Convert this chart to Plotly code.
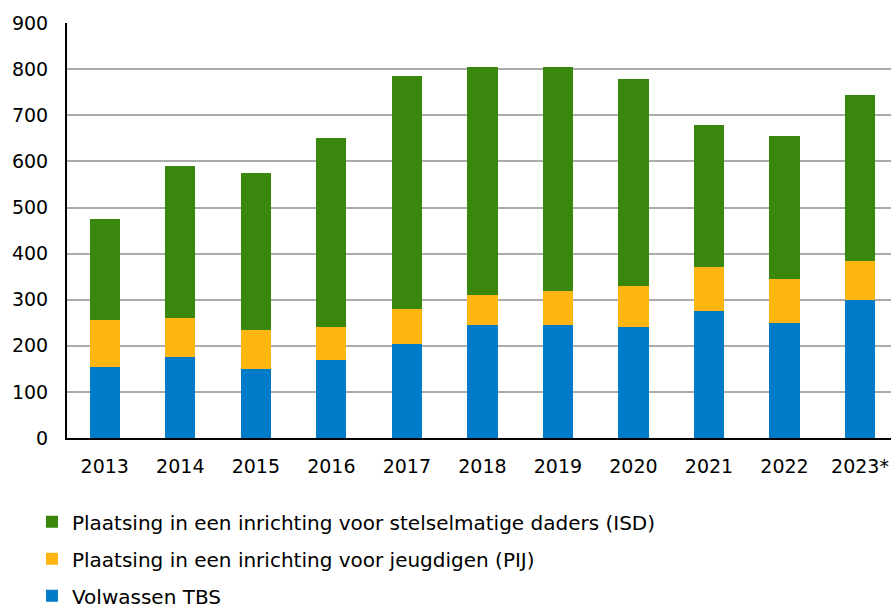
import plotly.graph_objects as go

years = ["2013", "2014", "2015", "2016", "2017", "2018", "2019", "2020", "2021", "2022", "2023*"]
tbs = [155, 175, 150, 170, 205, 245, 245, 240, 275, 250, 300]
pij = [100, 85, 85, 70, 75, 65, 75, 90, 95, 95, 85]
isd = [220, 330, 340, 410, 505, 495, 485, 450, 310, 310, 360]

names = ["Volwassen TBS",
         "Plaatsing in een inrichting voor jeugdigen (PIJ)",
         "Plaatsing in een inrichting voor stelselmatige daders (ISD)"]
colors = ["#007BC7", "#FFB612", "#39870C"]
ranks = [3, 2, 1]

fig = go.Figure()
for i, (vals, name, col) in enumerate(zip([tbs, pij, isd], names, colors)):
    fig.add_trace(go.Bar(x=years, y=vals, name=name, marker_color=col,
                         marker_line_width=0, legendgroup=str(i), legendrank=ranks[i]))

font = "DejaVu Sans, Verdana, sans-serif"
fig.update_layout(
    width=891, height=607,
    margin=dict(l=67, r=0, t=23, b=169, autoexpand=False),
    barmode="stack", bargap=0.6,
    plot_bgcolor="white", paper_bgcolor="white",
    font=dict(family=font, size=19, color="#000"),
    showlegend=True,
    legend=dict(orientation="v", traceorder="grouped", tracegroupgap=8,
                x=-0.0425, xanchor="left", y=-0.155, yanchor="top",
                font=dict(size=20), bgcolor="rgba(0,0,0,0)"),
)
fig.update_xaxes(range=[-0.5, 10.41], showline=True, linecolor="#000", linewidth=2,
                 ticks="", showgrid=False, ticklabelstandoff=10)
fig.update_yaxes(range=[0, 900.5], tickvals=[0, 100, 200, 300, 400, 500, 600, 700, 800, 900],
                 showline=True, linecolor="#000", linewidth=2,
                 showgrid=True, gridcolor="#ababab", gridwidth=1.5, ticks="",
                 ticklabelstandoff=13, zeroline=False)
fig.write_html("out.html", config={"displayModeBar": False},
               post_script="document.body.style.margin='0px';")
